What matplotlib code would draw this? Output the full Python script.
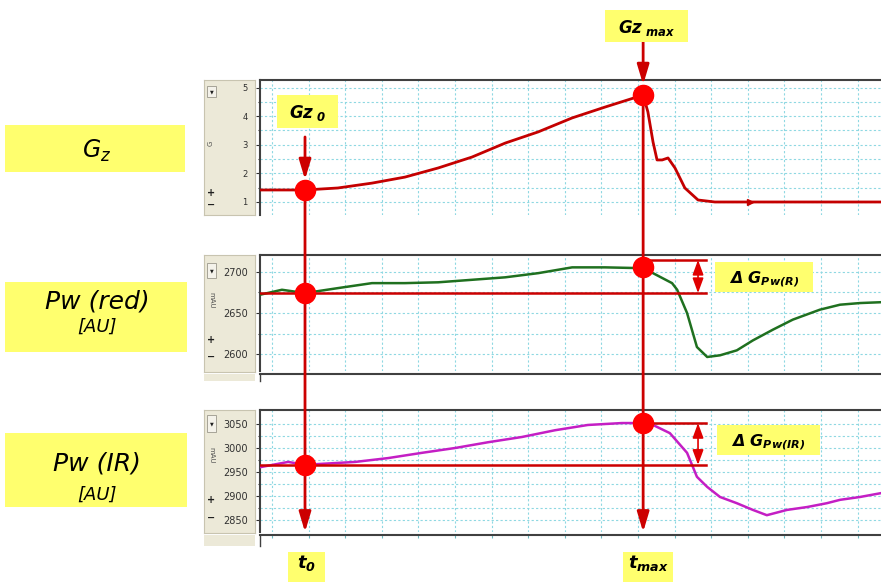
import matplotlib
matplotlib.use('Agg')
import matplotlib.pyplot as plt
from matplotlib.patches import Rectangle, ConnectionPatch
from matplotlib.lines import Line2D
from matplotlib.transforms import IdentityTransform

plt.rcParams['font.family'] = ['DejaVu Sans']
plt.rcParams['mathtext.fontset'] = 'custom'
plt.rcParams['mathtext.rm'] = 'DejaVu Sans'
plt.rcParams['mathtext.it'] = 'DejaVu Sans:italic'
plt.rcParams['mathtext.bf'] = 'DejaVu Sans:italic:bold'

W, H = 881, 582

# ---------------- data (time in grid units) ----------------
t_gz = [-0.33, 0.90, 1.80, 2.73, 3.63, 4.54, 5.46, 6.37, 7.27, 8.20, 9.10, 10.14,
        10.27, 10.41, 10.52, 10.66, 10.82, 11.01, 11.28, 11.64, 12.10, 16.64]
gz = [1.42, 1.42, 1.49, 1.66, 1.87, 2.19, 2.57, 3.06, 3.45, 3.94, 4.32, 4.74,
      4.15, 3.10, 2.47, 2.47, 2.54, 2.19, 1.49, 1.07, 1.00, 1.00]

t_red = [-0.33, 0.27, 0.90, 1.80, 2.73, 3.63, 4.54, 5.46, 6.37, 7.27, 8.20, 9.10, 10.14,
         10.41, 10.93, 11.07, 11.34, 11.61, 11.89, 12.24, 12.70, 13.14, 13.69, 14.23,
         14.97, 15.52, 16.07, 16.64]
pw_red = [2672, 2678, 2674, 2680, 2686, 2686, 2687, 2690, 2693, 2698, 2705, 2705, 2704,
          2698, 2686, 2678, 2650, 2609, 2597, 2599, 2605, 2617, 2630, 2642,
          2654, 2660, 2662, 2663]

t_ir = [-0.33, 0.44, 0.90, 2.27, 3.17, 4.10, 5.00, 5.90, 6.83, 7.73, 8.63, 9.56, 10.14,
        10.41, 10.87, 11.34, 11.61, 11.89, 12.24, 12.70, 13.14, 13.52, 14.07, 14.62,
        15.16, 15.52, 16.07, 16.64]
pw_ir = [2960, 2971, 2965, 2971, 2979, 2990, 3000, 3012, 3023, 3037, 3048, 3052, 3052,
         3048, 3031, 2990, 2940, 2919, 2898, 2885, 2871, 2860, 2871, 2877,
         2885, 2892, 2898, 2906]

t0, tmax = 0.90, 10.14
gz0, gzmax = 1.42, 4.74
red0, redmax, red_hi = 2674, 2705, 2714
ir0, irmax, ir_hi = 2965, 3052, 3052
t_delta = 11.64      # position of the double arrows
t_delta_end = 11.86  # right end of the reference lines
t_gz_marker = 13.06  # small arrow marker on the Gz trace

gz_ticks = [1, 2, 3, 4, 5]
red_ticks = [2600, 2650, 2700]
ir_ticks = [2850, 2900, 2950, 3000, 3050]
x_grid = list(range(0, 17))

XLIM = (-0.33, 16.64)

RED_LINE = '#CC0000'
RED_DOT = '#FF0000'
YEL = '#FFFF6E'
GRID = '#8ED8E2'
FRAME = '#404040'
STRIP = '#ECE9D8'

fig = plt.figure(figsize=(W / 100, H / 100), dpi=100)
fig.patch.set_facecolor('white')


def fig_rect(x0, y0, x1, y1):
    return [x0 / W, 1 - y1 / H, (x1 - x0) / W, (y1 - y0) / H]


ID = IdentityTransform()


def prect(x0, y0, x1, y1, fc, ec='none', lw=0.0, z=2):
    r = Rectangle((x0, H - y1), x1 - x0, y1 - y0, transform=ID, facecolor=fc,
                  edgecolor=ec, linewidth=lw, zorder=z)
    fig.add_artist(r)


def ptext(x, y, s, **kw):
    fig.text(x, H - y, s, transform=ID, **kw)


# ---------------- grey strips on the left of each panel ----------------
def strip(y0, y1, label, label_rot, btn, plus_y, minus_y, label_y):
    sax = fig.add_axes(fig_rect(204, y0, 255, y1))
    sax.set_facecolor(STRIP)
    sax.set_xticks([]); sax.set_yticks([])
    for s in sax.spines.values():
        s.set_color('#C8C4B0'); s.set_linewidth(0.8)
    prect(207, btn[0], 216, btn[1], '#F4F2EA', ec='#9A988C', lw=0.6, z=3)
    ptext(211.5, (btn[0] + btn[1]) / 2, '\u25BC', fontsize=3.5, ha='center', va='center',
          color='#202020', zorder=4)
    ptext(211, label_y, label, fontsize=5, rotation=label_rot, ha='center', va='center',
          color='#505050', zorder=4)
    ptext(211, plus_y, '+', fontsize=7, fontweight='bold', ha='center', va='center',
          color='#202020', zorder=4)
    ptext(211, minus_y, '\u2212', fontsize=7, fontweight='bold', ha='center', va='center',
          color='#202020', zorder=4)


strip(80, 215, 'G', 90, (86, 97), 193, 205, 143)
strip(255, 372, 'mAU', -90, (263, 278), 340, 357, 300)
strip(410, 533, 'mAU', -90, (415, 432), 500, 518, 455)

# small lower frames under the panels
for (ya, yb, ticks) in [(374, 381, False), (535, 546, True)]:
    bax = fig.add_axes(fig_rect(260, ya, 881, yb))
    bax.set_xlim(*XLIM)
    bax.set_ylim(0, 1)
    bax.set_yticks([])
    for k in ['bottom', 'right']:
        bax.spines[k].set_visible(False)
    bax.spines['top'].set_color(FRAME); bax.spines['top'].set_linewidth(1.5)
    bax.spines['left'].set_color(FRAME); bax.spines['left'].set_linewidth(1.0)
    if ticks:
        bax.set_xticks(x_grid)
        bax.tick_params(axis='x', direction='in', length=2.5, color='#70B8C0',
                        labelbottom=False, bottom=False, top=True)
    else:
        bax.set_xticks([])
    prect(204, ya, 255, yb, STRIP, z=0.5)

# ---------------- main panels ----------------
tick_font = ['Liberation Sans Narrow', 'DejaVu Sans']


def panel(y0, y1, ylim, majors, minors, fs):
    ax = fig.add_axes(fig_rect(260, y0, 881, y1))
    ax.set_xlim(*XLIM)
    ax.set_ylim(*ylim)
    ax.set_xticks(x_grid)
    ax.tick_params(axis='x', length=0, labelbottom=False)
    ax.set_yticks(majors)
    ax.set_yticks(minors, minor=True)
    ax.tick_params(axis='y', which='major', direction='out', length=3, width=0.8,
                   color='#303030', pad=6, labelsize=fs, labelcolor='#303030')
    ax.tick_params(axis='y', which='minor', direction='out', length=1.5, width=0.8,
                   color='#303030')
    for lab in ax.get_yticklabels():
        lab.set_family(tick_font)
    ax.grid(True, axis='x', color=GRID, linestyle=(0, (2, 2)), linewidth=0.8)
    ax.grid(True, axis='y', which='both', color=GRID, linestyle=(0, (2, 2)), linewidth=0.8)
    ax.set_axisbelow(True)
    for k in ['bottom', 'right']:
        ax.spines[k].set_visible(False)
    for k in ['top', 'left']:
        ax.spines[k].set_color(FRAME)
        ax.spines[k].set_linewidth(1.5)
    return ax


ax1 = panel(80, 215, (0.545, 5.266), gz_ticks, [1.5, 2.5, 3.5, 4.5], 6)
ax2 = panel(255, 371, (2580.1, 2719.9), red_ticks, [2625, 2675], 7)
ax3 = panel(410, 532, (2825.0, 3079.2), ir_ticks, [2875, 2925, 2975, 3025], 7)

ax1.plot(t_gz, gz, color='#C40000', lw=2.0, solid_joinstyle='round', zorder=3)
ax1.plot([t_gz_marker], [1.0], marker='>', ms=5, color='#C40000', zorder=3)
ax2.plot(t_red, pw_red, color='#1F701F', lw=1.8, zorder=3)
ax3.plot(t_ir, pw_ir, color='#C41EC4', lw=1.8, zorder=3)

# reference lines for the deltas
ax2.plot([XLIM[0], t_delta_end], [red0, red0], color=RED_LINE, lw=1.8, zorder=4)
ax2.plot([tmax, t_delta_end], [red_hi, red_hi], color=RED_LINE, lw=1.8, zorder=4)
ax3.plot([XLIM[0], t_delta_end], [ir0, ir0], color=RED_LINE, lw=1.8, zorder=4)
ax3.plot([tmax, t_delta_end], [ir_hi, ir_hi], color=RED_LINE, lw=1.8, zorder=4)
for ax, lo, hi in [(ax2, red0, red_hi), (ax3, ir0, ir_hi)]:
    ax.annotate('', xy=(t_delta, hi), xytext=(t_delta, lo),
                arrowprops=dict(arrowstyle='<|-|>,head_length=0.9,head_width=0.33',
                                color='#E00000', lw=1.2, shrinkA=0, shrinkB=0,
                                mutation_scale=10), zorder=5)

# ---------------- long vertical lines and arrows ----------------
arrow_style = '-|>,head_length=1.2,head_width=0.36'
for tt, gv in [(t0, gz0), (tmax, gzmax)]:
    con = ConnectionPatch(xyA=(tt, gv), coordsA=ax1.transData,
                          xyB=(tt, 0.0), coordsB=ax3.get_xaxis_transform(),
                          arrowstyle=arrow_style, color=RED_LINE, lw=2.0,
                          mutation_scale=10, shrinkA=0, shrinkB=0, zorder=6)
    fig.add_artist(con)

for tt, gv, ystart in [(t0, gz0, 0.578), (tmax, gzmax, 1.281)]:
    con = ConnectionPatch(xyA=(tt, ystart), coordsA=ax1.get_xaxis_transform(),
                          xyB=(tt, gv), coordsB=ax1.transData,
                          arrowstyle=arrow_style, color=RED_LINE, lw=2.0,
                          mutation_scale=10, shrinkA=0, shrinkB=7.5, zorder=6)
    fig.add_artist(con)

# markers
for ax, tt, v in [(ax1, t0, gz0), (ax1, tmax, gzmax), (ax2, t0, red0), (ax2, tmax, redmax),
                  (ax3, t0, ir0), (ax3, tmax, irmax)]:
    fig.add_artist(Line2D([tt], [v], transform=ax.transData, marker='o', ms=14.5,
                          color=RED_DOT, mec=RED_DOT, linestyle='none', zorder=7))

# ---------------- yellow labels ----------------
def xdisp(ax, t):
    return ax.transData.transform((t, ax.get_ylim()[0]))[0]


def ylabel_box(cx, ytop, ybot, w, text, base, fs):
    prect(cx - w / 2, ytop, cx + w / 2, ybot, YEL, z=8)
    ptext(cx, base, text, fontsize=fs, ha='center', va='baseline', color='black', zorder=9)


x_t0 = xdisp(ax1, t0)
x_tm = xdisp(ax1, tmax)

ylabel_box(x_t0 + 2.5, 95, 128, 61, r'$\mathbf{Gz}_{\mathbf{\ 0}}$', 118, 12)
ylabel_box(x_tm + 3.5, 10, 42, 83, r'$\mathbf{Gz}_{\mathbf{\ max}}$', 33, 12)
ylabel_box(x_t0 + 1.5, 552, 584, 37, r'$\mathbf{t}_{\mathbf{0}}$', 568, 13)
ylabel_box(x_tm + 5.0, 552, 584, 50, r'$\mathbf{t}_{\mathbf{max}}$', 568, 13)
ylabel_box(764, 262, 292, 98, r'$\mathbf{\Delta\ G}_{\mathbf{Pw(R)}}$', 283, 11.5)
ylabel_box(768.5, 425, 455, 103, r'$\mathbf{\Delta\ G}_{\mathbf{Pw(IR)}}$', 446, 11.5)

# left labels
prect(5, 125, 185, 172, YEL, z=8)
ptext(97, 158, r'$\mathit{G}_{\mathit{z}}$', fontsize=17, ha='center', va='baseline', zorder=9)
prect(5, 282, 187, 352, YEL, z=8)
ptext(97, 308, 'Pw (red)', fontsize=18, style='italic', ha='center', va='baseline', zorder=9)
ptext(97, 332, '[AU]', fontsize=13, style='italic', ha='center', va='baseline', zorder=9)
prect(5, 433, 187, 507, YEL, z=8)
ptext(97, 471, 'Pw (IR)', fontsize=18, style='italic', ha='center', va='baseline', zorder=9)
ptext(97, 500, '[AU]', fontsize=13, style='italic', ha='center', va='baseline', zorder=9)

fig.savefig('out.png', dpi=100, facecolor='white')
